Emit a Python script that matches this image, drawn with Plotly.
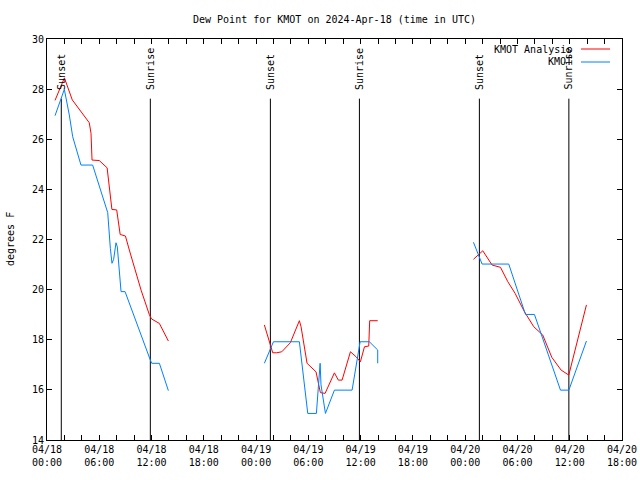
import pandas as pd
import plotly.graph_objects as go

base = pd.Timestamp("2024-04-18 00:00")

# hours after 2024-04-18 00:00 UTC; None marks a gap
analysis_hours = [0.92, 2.0, 2.9, 3.5, 4.85, 5.05, 5.17, 6.0, 6.9, 7.45, 8.0, 8.4, 9.0, 9.45, 10.8, 11.75, 12.0, 12.9, 13.93, None,
                  24.95, 25.91, 26.37, 26.95, 27.93, 28.97, 29.16, 29.85, 30.88, 31.08, 31.38, 31.92, 32.99, 33.44, 33.87, 34.83, 35.48, 35.97, 36.44, 36.93, 37.04, 37.96, None,
                  48.95, 50.02, 51.09, 52.05, 52.89, 53.73, 54.8, 55.87, 56.9, 57.94, 59.01, 59.89, 61.92]
analysis_vals = [27.55, 28.45, 27.57, 27.3, 26.66, 26.24, 25.17, 25.15, 24.86, 23.2, 23.18, 22.2, 22.14, 21.58, 19.98, 19.0, 18.83, 18.65, 17.95, None,
                 18.59, 17.48, 17.48, 17.52, 17.88, 18.76, 18.52, 17.06, 16.72, 16.39, 15.89, 15.86, 16.68, 16.39, 16.39, 17.52, 17.32, 17.12, 17.72, 17.75, 18.76, 18.76, None,
                 21.21, 21.55, 20.98, 20.89, 20.32, 19.85, 19.12, 18.52, 18.19, 17.3, 16.79, 16.59, 19.39]

obs_hours = [0.92, 1.99, 2.56, 2.95, 3.9, 5.24, 6.97, 7.1, 7.27, 7.46, 7.65, 7.92, 8.07, 8.5, 8.96, 11.86, 12.02, 12.9, 13.93, None,
             24.95, 25.99, 28.97, 29.35, 29.93, 30.92, 31.27, 31.35, 31.45, 31.96, 32.99, 35.02, 35.94, 37.0, 37.96, 37.96, None,
             48.95, 49.94, 53.0, 54.92, 55.95, 58.94, 59.9, 61.92]
obs_vals = [26.94, 27.99, 26.97, 26.1, 24.97, 24.97, 23.07, 22.4, 21.65, 21.05, 21.21, 21.87, 21.71, 19.92, 19.92, 17.19, 17.06, 17.06, 15.97, None,
            17.06, 17.92, 17.92, 16.72, 15.06, 15.06, 16.79, 17.06, 16.2, 15.06, 15.99, 15.99, 17.92, 17.92, 17.59, 17.06, None,
            21.89, 21.02, 21.02, 19.01, 19.01, 15.99, 15.99, 17.95]

sun_hours = [1.64, 11.86, 25.64, 35.86, 49.63, 59.9]
sun_labels = ["Sunset", "Sunrise", "Sunset", "Sunrise", "Sunset", "Sunrise"]

series_names = ["KMOT Analysis", "KMOT"]
series_colors = ["#ff0000", "#0080ff"]


def to_time(hours):
    return [None if h is None else base + pd.Timedelta(hours=h) for h in hours]


FONT = "DejaVu Sans Mono"
FW, FH = 640, 480
L, W, T, H = 47, 575, 39, 401


def px(x):  # screen pixel -> paper x
    return (x - L) / W


def py(y):  # screen pixel -> paper y
    return (T + H - y) / H


fig = go.Figure()
fig.add_trace(go.Scatter(x=to_time(analysis_hours), y=analysis_vals, mode="lines",
                         line=dict(color=series_colors[0], width=1), connectgaps=False,
                         name=series_names[0], showlegend=False))
fig.add_trace(go.Scatter(x=to_time(obs_hours), y=obs_vals, mode="lines",
                         line=dict(color=series_colors[1], width=1), connectgaps=False,
                         name=series_names[1], showlegend=False))

shapes = []
annotations = []
for h, lab in zip(sun_hours, sun_labels):
    t = base + pd.Timedelta(hours=h)
    shapes.append(dict(type="line", xref="x", yref="y", x0=t, x1=t, y0=14, y1=27.62,
                       line=dict(color="black", width=1), layer="below"))
    annotations.append(dict(x=t, y=27.9, xref="x", yref="y", text=lab, textangle=-90,
                            showarrow=False, xanchor="center", yanchor="bottom",
                            font=dict(family=FONT, size=10, color="black")))

for i, (nm, col) in enumerate(zip(series_names, series_colors)):
    yy = 49 + 13 * i
    annotations.append(dict(x=px(574), y=py(yy), xref="paper", yref="paper", text=nm,
                            showarrow=False, xanchor="right", yanchor="middle",
                            font=dict(family=FONT, size=10, color="black")))
    shapes.append(dict(type="line", xref="paper", yref="paper", x0=px(581), x1=px(610),
                       y0=py(yy), y1=py(yy), line=dict(color=col, width=1)))

# title and y-axis title
annotations.append(dict(x=px(191), y=py(19), xref="paper", yref="paper",
                        text="Dew Point for KMOT on 2024-Apr-18 (time in UTC)",
                        showarrow=False, xanchor="left", yanchor="middle",
                        font=dict(family=FONT, size=10, color="black")))
annotations.append(dict(x=px(10), y=py(239), xref="paper", yref="paper", text="degrees F",
                        textangle=-90, showarrow=False, xanchor="center", yanchor="middle",
                        font=dict(family=FONT, size=10, color="black")))

fig.update_layout(
    width=FW, height=FH,
    margin=dict(l=L, r=FW - L - W, t=T, b=FH - T - H, autoexpand=False),
    paper_bgcolor="white", plot_bgcolor="white",
    font=dict(family=FONT, size=10, color="black"),
    shapes=shapes, annotations=annotations, showlegend=False,
    hovermode=False,
)
fig.update_xaxes(
    type="date", range=[base, base + pd.Timedelta(hours=66)],
    dtick=6 * 3600 * 1000, tick0=base, tickformat="%m/%d<br>%H:%M",
    ticks="inside", ticklen=5, tickcolor="black", tickwidth=1,
    minor=dict(dtick=2 * 3600 * 1000, ticks="inside", ticklen=5, tickcolor="black", showgrid=False),
    showline=True, linecolor="black", linewidth=1, mirror="allticks",
    showgrid=False, zeroline=False, automargin=False,
    tickfont=dict(family=FONT, size=10, color="black"),
)
fig.update_yaxes(
    range=[14, 30], dtick=2, tick0=14,
    ticks="inside", ticklen=5, tickcolor="black", tickwidth=1,
    showline=True, linecolor="black", linewidth=1, mirror="allticks",
    showgrid=False, zeroline=False, automargin=False,
    tickfont=dict(family=FONT, size=10, color="black"),
)

fig.write_html("out.html", config={"displayModeBar": False, "staticPlot": True},
               post_script="document.body.style.margin='0';document.body.style.overflow='hidden';")
